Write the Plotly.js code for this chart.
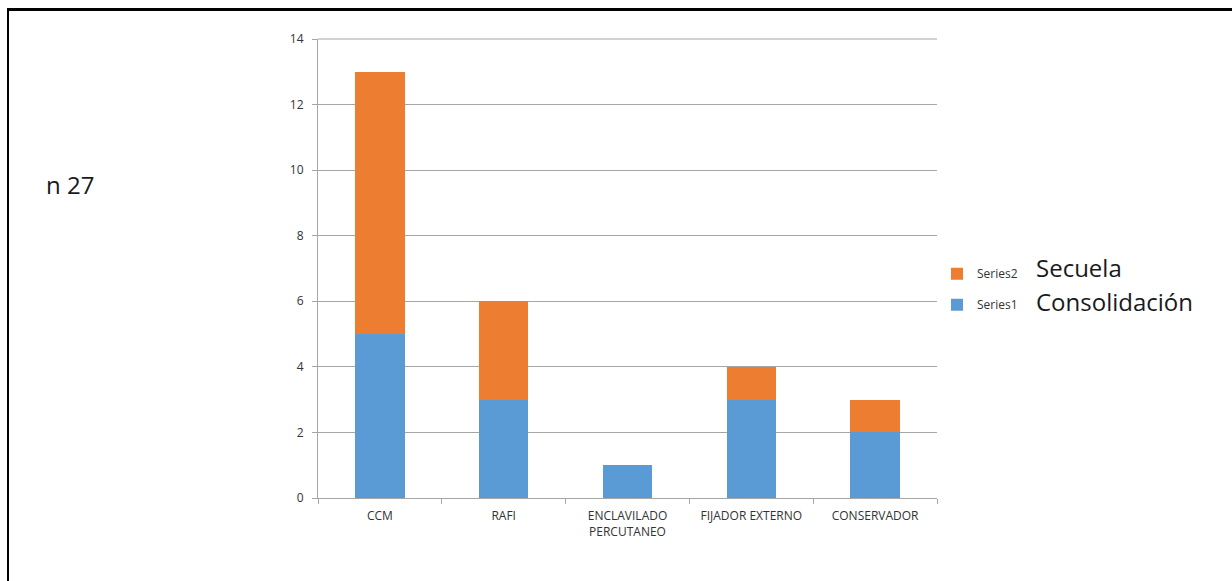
<!DOCTYPE html>
<html><head><meta charset="utf-8">
<script src="https://cdn.plot.ly/plotly-3.0.1.min.js"></script>
<style>
html,body{margin:0;padding:0;background:#fff;}
#frame{position:absolute;left:7px;top:8px;width:1225px;height:573px;border-top:3px solid #000;border-left:2px solid #000;box-sizing:border-box;pointer-events:none;z-index:5;}
#chart{width:1232px;height:581px;}
</style></head>
<body>
<div id="frame"></div>
<div id="chart"></div>
<script>
const categories = ["CCM", "RAFI", "ENCLAVILADO<br>PERCUTANEO", "FIJADOR EXTERNO", "CONSERVADOR"];
const series1 = [5, 3, 1, 3, 2];
const series2 = [8, 3, 0, 1, 1];
const seriesNames = ["Series1", "Series2"];
const seriesLabels = ["Consolidación", "Secuela"];
const noteText = "n 27";

const font = "Open Sans, Liberation Sans, sans-serif";
const traces = [
  {type:"bar", x:categories, y:series1, name:seriesNames[0], legendgroup:"a", legendrank:2,
   marker:{color:"#5B9BD5"}, hoverinfo:"y"},
  {type:"bar", x:categories, y:series2, name:seriesNames[1], legendgroup:"b", legendrank:1,
   marker:{color:"#ED7D31"}, hoverinfo:"y"}
];
const layout = {
  width:1232, height:581,
  margin:{l:318, r:295, t:39, b:83},
  paper_bgcolor:"#fff", plot_bgcolor:"#fff",
  barmode:"stack", bargap:0.6,
  font:{family:font, size:10, color:"#333333"},
  xaxis:{showline:true, linecolor:"#a6a6a6", linewidth:1, ticks:"outside", tickson:"boundaries",
    ticklen:5, tickcolor:"#a6a6a6", showgrid:false, ticklabelstandoff:7,
    tickfont:{size:12, color:"#333333"}},
  yaxis:{range:[0,14], dtick:2, showline:true, linecolor:"#a6a6a6", linewidth:1, ticks:"outside",
    ticklen:5, tickcolor:"#a6a6a6", gridcolor:"#a6a6a6", gridwidth:1, zeroline:false,
    ticklabelstandoff:6, tickfont:{size:12, color:"#333333"}},
  shapes:[{type:"line", xref:"paper", yref:"paper", x0:0, x1:1, y0:1, y1:1,
    line:{color:"#a6a6a6", width:1}, layer:"below"}],
  showlegend:true,
  legend:{x:1.0, y:0.455, xanchor:"left", yanchor:"middle", traceorder:"grouped",
    tracegroupgap:12, font:{size:12, color:"#333333"}, bgcolor:"rgba(0,0,0,0)"},
  annotations:[
    {xref:"paper", yref:"paper", x:-0.442, y:0.682, xanchor:"left", yanchor:"middle", showarrow:false,
     text:noteText, font:{family:font, size:24, color:"#1a1a1a"}},
    {xref:"paper", yref:"paper", x:1.157, y:0.503, xanchor:"left", yanchor:"middle", showarrow:false,
     text:seriesLabels[1], font:{family:font, size:24, color:"#1a1a1a"}},
    {xref:"paper", yref:"paper", x:1.157, y:0.429, xanchor:"left", yanchor:"middle", showarrow:false,
     text:seriesLabels[0], font:{family:font, size:24, color:"#1a1a1a"}}
  ]
};
Plotly.newPlot("chart", traces, layout, {displayModeBar:false, staticPlot:true});
</script>
</body></html>
